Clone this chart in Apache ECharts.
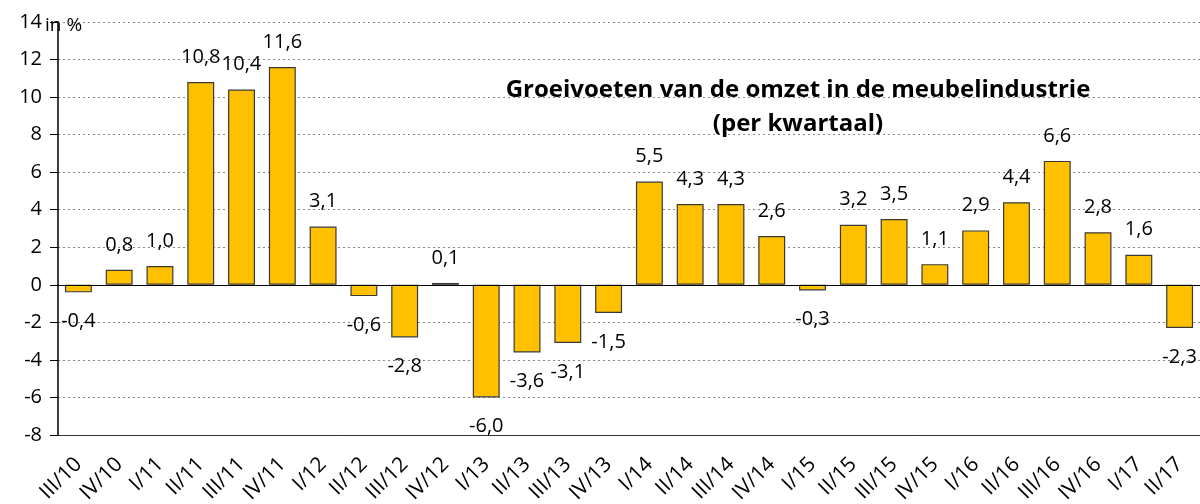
<!DOCTYPE html>
<html>
<head>
<meta charset="utf-8">
<script src="https://cdn.jsdelivr.net/npm/echarts@6/dist/echarts.min.js"></script>
<style>
  html, body { margin: 0; padding: 0; background: #fff; }
  #chart { width: 1200px; height: 504px; }
</style>
</head>
<body>
<div id="chart"></div>
<script>
// kwartalen
var categories = ['III/10', 'IV/10', 'I/11', 'II/11', 'III/11', 'IV/11', 'I/12', 'II/12', 'III/12', 'IV/12',
  'I/13', 'II/13', 'III/13', 'IV/13', 'I/14', 'II/14', 'III/14', 'IV/14', 'I/15', 'II/15',
  'III/15', 'IV/15', 'I/16', 'II/16', 'III/16', 'IV/16', 'I/17', 'II/17'];
// groeivoet omzet in %
var growth = [-0.4, 0.8, 1.0, 10.8, 10.4, 11.6, 3.1, -0.6, -2.8, 0.1,
  -6.0, -3.6, -3.1, -1.5, 5.5, 4.3, 4.3, 2.6, -0.3, 3.2,
  3.5, 1.1, 2.9, 4.4, 6.6, 2.8, 1.6, -2.3];
var yTicks = { min: -8, max: 14, step: 2 };

var font = 'Open Sans';

// label boven bij positief, onder bij negatief
var seriesData = growth.map(function (v) {
  return {
    value: v,
    label: { position: v < 0 ? 'bottom' : 'top', distance: v < 0 ? 19 : 15 }
  };
});

var chart = echarts.init(document.getElementById('chart'));
var option = {
  animation: false,
  title: {
    text: 'Groeivoeten van de omzet in de meubelindustrie\n(per kwartaal)',
    left: 793,
    top: 68,
    textAlign: 'center',
    textStyle: {
      fontFamily: font,
      fontWeight: 'bold',
      fontSize: 24,
      lineHeight: 34,
      color: '#000'
    }
  },
  graphic: [{
    type: 'text',
    left: 45,
    top: 16,
    style: { text: 'in %', font: '19px "Open Sans"', fill: '#000' }
  }],
  grid: { left: 58, right: 0, top: 22, bottom: 69, containLabel: false, outerBoundsMode: 'none' },
  xAxis: {
    type: 'category',
    data: categories,
    axisLine: { onZero: false, lineStyle: { color: '#333', width: 1 } },
    axisTick: { show: false },
    axisLabel: {
      rotate: 45,
      interval: 0,
      margin: 26,
      fontFamily: font,
      fontSize: 21,
      color: '#000'
    }
  },
  yAxis: {
    type: 'value',
    min: yTicks.min,
    max: yTicks.max,
    interval: yTicks.step,
    axisLine: { show: true, lineStyle: { color: '#000', width: 1.5 } },
    axisTick: { show: true, inside: false, length: 8, lineStyle: { color: '#000' } },
    axisLabel: { margin: 16, fontFamily: font, fontSize: 20, color: '#000' },
    splitLine: { show: true, lineStyle: { color: '#888', type: [2, 3], width: 1 } }
  },
  series: [{
    type: 'bar',
    data: seriesData,
    barCategoryGap: '34%',
    itemStyle: { color: '#FFC000', borderColor: '#3a3a3a', borderWidth: 1.2 },
    label: {
      show: true,
      fontFamily: font,
      fontSize: 20,
      color: '#000',
      formatter: function (p) { return p.value.toFixed(1).replace('.', ','); }
    },
    markLine: {
      silent: true,
      symbol: 'none',
      label: { show: false },
      lineStyle: { color: '#000', type: 'solid', width: 1 },
      data: [{ yAxis: 0 }]
    }
  }]
};
chart.setOption(option);
window.addEventListener('resize', function () { chart.resize(); });
</script>
</body>
</html>
